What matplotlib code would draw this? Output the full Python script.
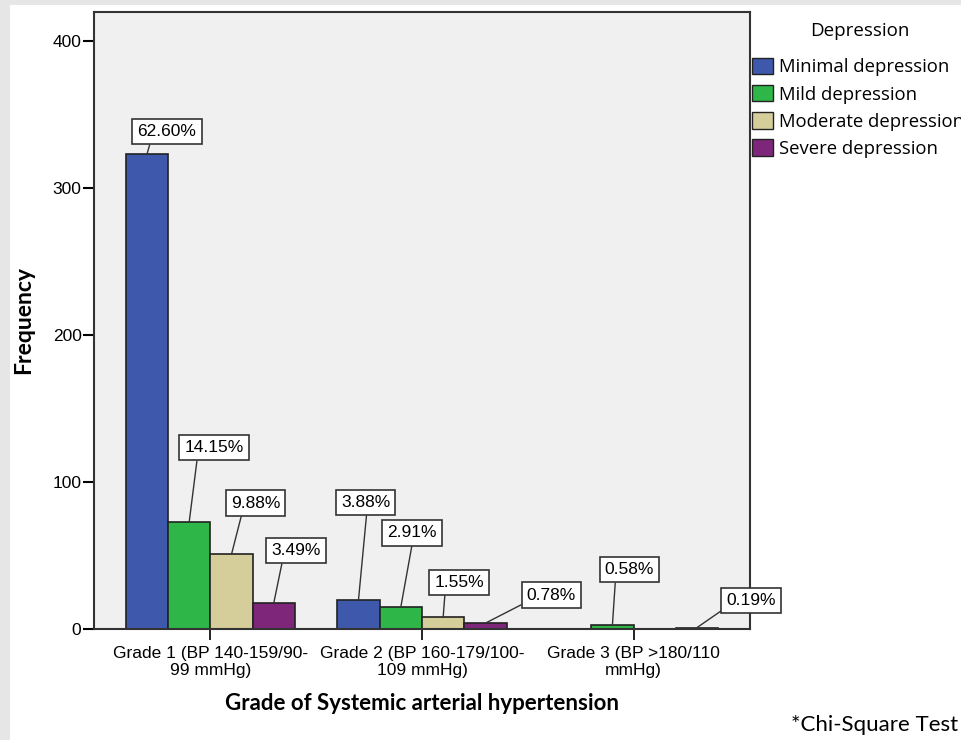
import numpy as np
import matplotlib.pyplot as plt
from matplotlib.patches import Rectangle, Patch

# data
groups = ['Grade 1 (BP 140-159/90-\n99 mmHg)',
          'Grade 2 (BP 160-179/100-\n109 mmHg)',
          'Grade 3 (BP >180/110\nmmHg)']
series = ['Minimal depression', 'Mild depression', 'Moderate depression', 'Severe depression']
minimal = [323, 20, 0]
mild = [73, 15, 3]
moderate = [51, 8, 0]
severe = [18, 4, 1]
counts = [minimal, mild, moderate, severe]
total = 516

colors = ['#3e58ac', '#2eb748', '#d5ce9a', '#7e267a']

# label placement: (series, group) -> (dx, dy in pixels from bar top, relpos on box)
label_pos = {
    (0, 0): (20, 23, (0.235, 0)),
    (1, 0): (25, 74, (0.22, 0)),
    (2, 0): (24, 51, (0.24, 0)),
    (3, 0): (22, 52, (0.24, 0)),
    (0, 1): (7, 97, (0.53, 0)),
    (1, 1): (11, 74, (0.52, 0)),
    (2, 1): (16, 35, (0.22, 0)),
    (3, 1): (66, 28, (0.0, 0.05)),
    (1, 2): (17, 55, (0.22, 0)),
    (3, 2): (54, 27, (0.0, 0.05)),
}

fig = plt.figure(figsize=(9.62, 7.40), dpi=100, facecolor='#e6e6e6')
fig.patches.append(Rectangle((10/962, 0), 1, 1-5/740, transform=fig.transFigure,
                             facecolor='white', edgecolor='none', zorder=-1))

ax = fig.add_axes([94/962, 1-629/740, 656/962, 617/740])
ax.set_facecolor('#f0f0f0')

x = np.arange(len(groups))
w = 0.2
for i in range(4):
    xs = x + (i - 1.5) * w
    ax.bar(xs, counts[i], width=w, color=colors[i], edgecolor='#222222', linewidth=1.2, zorder=2)
    for j in range(len(groups)):
        if counts[i][j] == 0:
            continue
        dx, dy, rp = label_pos[(i, j)]
        ax.annotate('%.2f%%' % (100.0 * counts[i][j] / total), xy=(xs[j], counts[i][j]),
                    xytext=(dx, dy), textcoords='offset pixels', ha='center', va='center',
                    fontsize=12.5, family='Liberation Sans', zorder=3,
                    bbox=dict(boxstyle='square,pad=0.3', fc='white', ec='#333333', lw=1.2),
                    arrowprops=dict(arrowstyle='-', color='#333333', lw=1.0, relpos=rp,
                                    shrinkA=0, shrinkB=0))

ax.set_xlim(-0.55, 2.55)
ax.set_ylim(0, 420)
ax.set_yticks([0, 100, 200, 300, 400])
ax.set_xticks(x)
ax.set_xticklabels(groups, fontsize=12.5, family='Liberation Sans', linespacing=1.2)
ax.tick_params(axis='y', labelsize=12.5, length=8, width=1.5, direction='out', pad=1)
ax.tick_params(axis='x', length=8, width=1.2, direction='out', pad=4)
for lab in ax.get_yticklabels():
    lab.set_family('Liberation Sans')
for s in ax.spines.values():
    s.set_linewidth(1.5)
    s.set_color('#333333')

ax.set_xlabel('Grade of Systemic arterial hypertension', fontsize=16, family='Lato', fontweight='bold')
ax.xaxis.label.set_va('center')
ax.xaxis.set_label_coords(0.5, (629-704)/617)
ax.set_ylabel('Frequency', fontsize=16.5, family='Lato', fontweight='bold')
ax.yaxis.label.set_va('center')
ax.yaxis.set_label_coords((24-94)/656, 0.5)

handles = [Patch(facecolor=c, edgecolor='#222222', linewidth=1.0) for c in colors]
leg = fig.legend(handles, series, loc='upper left', bbox_to_anchor=(752/962, 1-58/740),
                 frameon=False, prop={'family': 'Open Sans', 'size': 13.3},
                 handlelength=1.13, handleheight=0.98, handletextpad=0.32, labelspacing=0.47,
                 borderpad=0, borderaxespad=0)
fig.text(860/962, 1-31/740, 'Depression', ha='center', va='center', fontsize=13.5, family='Open Sans')

fig.text(958/962, 1-725/740, '*Chi-Square Test', ha='right', va='center', fontsize=16, family='Lato')

fig.savefig('out.png', dpi=100, facecolor=fig.get_facecolor())
